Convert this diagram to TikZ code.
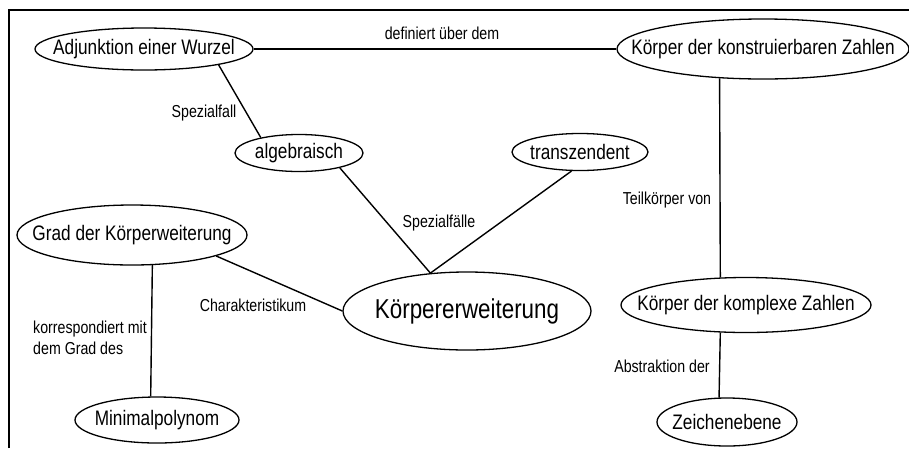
\documentclass[tikz,border=0pt]{standalone}
\usepackage{fontspec}
\setmainfont{Liberation Sans}[FakeStretch=0.82]
\usepackage{tikz}
\usetikzlibrary{shapes}
\tikzset{bubble/.style={draw, ellipse, inner sep=0pt, line width=1.3pt, font=\fontsize{21}{25}\selectfont}}
\tikzset{lbl/.style={inner sep=0pt, font=\fontsize{17.3}{20.5}\selectfont}}
\newcommand{\inbox}[1]{\makebox[0pt]{#1}}

\begin{document}
\begin{tikzpicture}[x=1pt, y=-1pt, line width=1.4pt]
\useasboundingbox (0,0) rectangle (909,448);
\draw[line width=1.2pt] (9,448) |- (909,10);
% concepts
\node[bubble, minimum width=218, minimum height=42] (adj) at (144,49) {\inbox{Adjunktion einer Wurzel}};
\node[bubble, minimum width=292, minimum height=60] (konstr) at (763,49) {\inbox{Körper der konstruierbaren Zahlen}};
\node[bubble, minimum width=128, minimum height=37] (alg) at (299,153) {\inbox{algebraisch}};
\node[bubble, minimum width=136, minimum height=37] (trans) at (580,152) {\inbox{transzendent}};
\node[bubble, minimum width=230, minimum height=60] (grad) at (132,235) {\inbox{Grad der Körperweiterung}};
\node[bubble, minimum width=248, minimum height=78, font=\fontsize{27.3}{31}\selectfont] (ke) at (467,311) {\inbox{Körpererweiterung}};
\node[bubble, minimum width=250, minimum height=55] (kompl) at (746,305) {\inbox{Körper der komplexe Zahlen}};
\node[bubble, minimum width=164, minimum height=46] (minpol) at (157,420) {\inbox{Minimalpolynom}};
\node[bubble, minimum width=140, minimum height=48] (zeich) at (727,422) {\inbox{Zeichenebene}};
% relations
\draw (adj) -- (konstr);
\draw (adj.-12) -- (alg.158);
\draw (alg.-20) -- (ke.134);
\draw (trans.-114) -- (ke.134);
\draw (grad.-14) -- (ke.west);
\draw (grad.-56) -- (minpol.105);
\draw (konstr.214) -- (kompl.133.5);
\draw (kompl.-133.5) -- (zeich.108);
% labels
\node[lbl] (l1) at (442,33) {definiert über dem};
\node[lbl] (l2) at (204,113) {Spezialfall};
\node[lbl] (l3) at (439,223) {Spezialfälle};
\node[lbl] (l4) at (253,305) {Charakteristikum};
\node[lbl, align=left] (l5) at (90,338) {korrespondiert mit\\dem Grad des};
\node[lbl] (l6) at (667,200) {Teilkörper von};
\node[lbl] (l7) at (662,366) {Abstraktion der};
\end{tikzpicture}
\end{document}
